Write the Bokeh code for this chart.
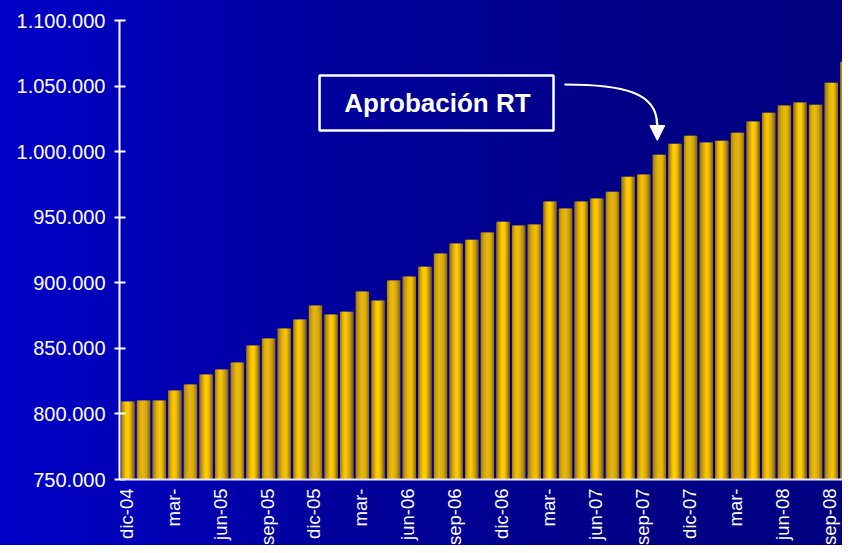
import math
from bokeh.plotting import figure
from bokeh.models import (ColumnDataSource, Range1d, FixedTicker, BoxAnnotation,
                          Arrow, NormalHead, Label, Span)
from bokeh.core.properties import value
from bokeh.transform import dodge
from bokeh.embed import file_html
from bokeh.resources import INLINE

# ---------------- data ----------------
months = ["dic-04", "ene-05", "feb-05", "mar-05", "abr-05", "may-05", "jun-05",
          "jul-05", "ago-05", "sep-05", "oct-05", "nov-05", "dic-05", "ene-06",
          "feb-06", "mar-06", "abr-06", "may-06", "jun-06", "jul-06", "ago-06",
          "sep-06", "oct-06", "nov-06", "dic-06", "ene-07", "feb-07", "mar-07",
          "abr-07", "may-07", "jun-07", "jul-07", "ago-07", "sep-07", "oct-07",
          "nov-07", "dic-07", "ene-08", "feb-08", "mar-08", "abr-08", "may-08",
          "jun-08", "jul-08", "ago-08", "sep-08", "oct-08"]
values = [809500, 810200, 810200, 817800, 822400, 830000, 833800, 839200,
          852100, 857500, 865100, 872000, 882600, 875800, 878000, 893300,
          886400, 901700, 904700, 912300, 922300, 929900, 932900, 938300,
          946600, 943600, 944400, 961900, 956600, 961900, 964200, 969500,
          980900, 982500, 997700, 1006100, 1012200, 1006900, 1008400, 1014500,
          1022900, 1029700, 1035100, 1037400, 1035800, 1052600, 1068600]
x_tick_idx = [0, 3, 6, 9, 12, 15, 18, 21, 24, 27, 30, 33, 36, 39, 42, 45]
x_tick_labels = ["dic-04", "mar-", "jun-05", "sep-05", "dic-05", "mar-", "jun-06",
                 "sep-06", "dic-06", "mar-", "jun-07", "sep-07", "dic-07", "mar-",
                 "jun-08", "sep-08"]
y_ticks = [750000, 800000, 850000, 900000, 950000, 1000000, 1050000, 1100000]
y_tick_labels = ["750.000", "800.000", "850.000", "900.000", "950.000",
                 "1.000.000", "1.050.000", "1.100.000"]
annotation_text = "Aprobación RT"

# ---------------- figure ----------------
FONT = "Liberation Sans"
Y0, Y1 = 750000, 1100000
PX_PER_UNIT = 459 / (Y1 - Y0)          # vertical scale of the value axis
H, TOP = 545, 20
frame_bottom_value = Y1 - (H - TOP) / PX_PER_UNIT   # frame extends under the axis for labels

p = figure(width=842, height=H, output_backend="svg", toolbar_location=None,
           x_axis_location=None,
           x_range=Range1d(-0.54, 45.72), y_range=Range1d(frame_bottom_value, Y1),
           min_border_left=119, min_border_right=0, min_border_top=TOP,
           min_border_bottom=0)
p.background_fill_color = None
p.border_fill_color = None
p.outline_line_color = None
p.styles = {"background": "linear-gradient(90deg, #0000c8 0%, #00009c 40%, #000086 75%, #000080 100%)"}
p.xgrid.visible = False
p.ygrid.visible = False

src = ColumnDataSource(dict(x=list(range(len(values))), top=values, month=months))

# golden "cylinder" bars built from vertical strips
W = 0.86
stops = [(0.0, (172, 132, 0)), (0.2, (228, 176, 0)), (0.4, (255, 204, 0)),
         (0.58, (255, 204, 0)), (0.78, (228, 178, 0)), (1.0, (156, 120, 0))]

def col_at(t):
    for (t0, c0), (t1, c1) in zip(stops[:-1], stops[1:]):
        if t0 <= t <= t1:
            f = (t - t0) / (t1 - t0)
            return "#%02x%02x%02x" % tuple(int(round(a + (b - a) * f)) for a, b in zip(c0, c1))
    return "#%02x%02x%02x" % stops[-1][1]

n = 14
sw = W / n * 1.3
for k in range(n):
    off = -W / 2 + sw / 2 + k * (W - sw) / (n - 1)
    t = k / (n - 1)
    p.vbar(x=dodge("x", off), top="top", bottom=Y0, width=sw, source=src,
           fill_color=col_at(t), line_color=None)

# y axis (line limited to the value range)
p.yaxis.bounds = (Y0, Y1)
p.yaxis.ticker = FixedTicker(ticks=y_ticks)
p.yaxis.major_label_overrides = {t: l for t, l in zip(y_ticks, y_tick_labels)}
p.yaxis.major_label_text_font = FONT
p.yaxis.major_label_text_font_size = "20px"
p.yaxis.major_label_text_color = "white"
p.yaxis.axis_line_color = "white"
p.yaxis.axis_line_width = 2
p.yaxis.major_tick_line_color = "white"
p.yaxis.major_tick_line_width = 2
p.yaxis.major_tick_out = 5
p.yaxis.major_tick_in = 6
p.yaxis.minor_tick_line_color = None
p.yaxis.major_label_standoff = 9

# category axis: base line + vertical month labels
p.add_layout(Span(location=Y0, dimension="width", line_color="#e8e8f4", line_width=2))
label_y = Y0 - 9 / PX_PER_UNIT
p.text(x=x_tick_idx, y=[label_y] * len(x_tick_idx), text=x_tick_labels,
       angle=math.pi / 2, text_align="right", text_baseline="middle", x_offset=-1.5,
       text_font=value(FONT), text_font_size=value("18.5px"), text_color="white")

# annotation box, text and curved arrow (pointing at oct-07)
p.add_layout(BoxAnnotation(left=12.26, right=27.23, bottom=1016100, top=1058050,
                           fill_color=None, fill_alpha=0, line_color="white",
                           line_alpha=1.0, line_width=2.5))
p.add_layout(Label(x=19.8, y=1037000, text=annotation_text, text_font=FONT,
                   text_font_style="bold", text_font_size="26px", text_color="white",
                   text_align="center", text_baseline="middle"))
p.bezier(x0=[27.93], y0=[1051190], x1=[33.85], y1=[1021000],
         cx0=[31.7], cy0=[1051190], cx1=[33.85], cy1=[1045090],
         line_color="white", line_width=2.2)
p.add_layout(Arrow(x_start=33.87, y_start=1022000, x_end=33.87, y_end=1008500,
                   line_color="white", line_width=2.2,
                   end=NormalHead(size=15, fill_color="white", line_color="white")))

open("out.html", "w").write(file_html(p, INLINE))
